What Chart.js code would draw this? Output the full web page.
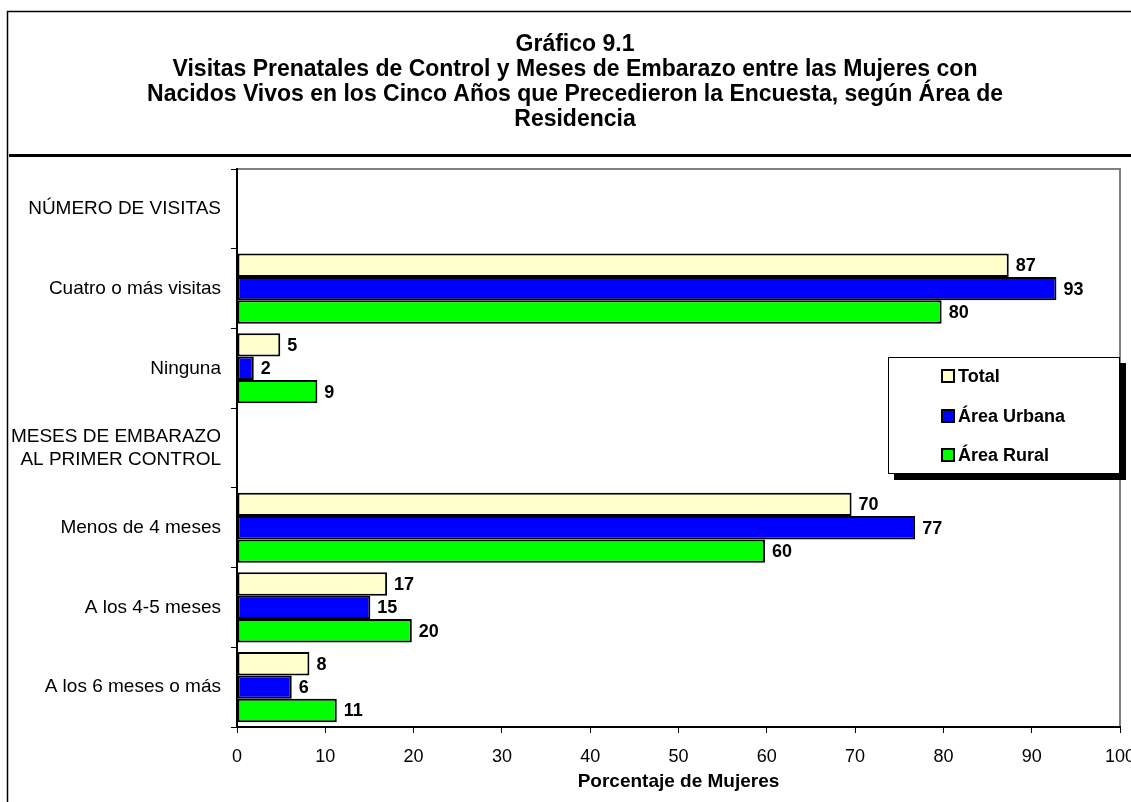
<!DOCTYPE html>
<html>
<head>
<meta charset="utf-8">
<script src="https://cdn.jsdelivr.net/npm/chart.js@4"></script>
<style>
  html, body { margin: 0; padding: 0; background: #fff; overflow: hidden; }
  #wrap { width: 1150px; height: 802px; }
</style>
</head>
<body>
<div id="wrap"><canvas id="chart" width="1150" height="802"></canvas></div>
<script>
const FONT = 'Arial, "Liberation Sans", sans-serif';

const categories = [
  'NÚMERO DE VISITAS',
  'Cuatro o más visitas',
  'Ninguna',
  ['MESES DE EMBARAZO', 'AL PRIMER CONTROL'],
  'Menos de 4 meses',
  'A los 4-5 meses',
  'A los 6 meses o más'
];

const seriesNames = ['Total', 'Área Urbana', 'Área Rural'];
const seriesColors = ['#FFFFCC', '#0000FF', '#00FF00'];

const totalValues = [null, 87.4, 4.9, null, 69.6, 17.0, 8.2];
const urbanValues = [null, 92.8, 1.9, null, 76.8, 15.1, 6.2];
const ruralValues = [null, 79.8, 9.1, null, 59.8, 19.8, 11.3];

const xTicks = [0, 10, 20, 30, 40, 50, 60, 70, 80, 90, 100];

const titleLines = [
  'Gráfico 9.1',
  'Visitas Prenatales de Control y Meses de Embarazo entre las Mujeres con',
  'Nacidos Vivos en los Cinco Años que Precedieron la Encuesta, según Área de',
  'Residencia'
];

// marco exterior y linea bajo el titulo
const framePlugin = {
  id: 'frame',
  beforeDraw(chart) {
    const ctx = chart.ctx;
    ctx.save();
    ctx.strokeStyle = '#000';
    ctx.lineWidth = 1.5;
    ctx.beginPath();
    ctx.moveTo(7.5, 802);
    ctx.lineTo(7.5, 11.5);
    ctx.lineTo(1150, 11.5);
    ctx.stroke();
    ctx.lineWidth = 3;
    ctx.beginPath();
    ctx.moveTo(9, 155.5);
    ctx.lineTo(1150, 155.5);
    ctx.stroke();
    // borde gris del area de trazado
    const a = chart.chartArea;
    ctx.strokeStyle = '#808080';
    ctx.lineWidth = 2;
    ctx.beginPath();
    ctx.moveTo(a.left, a.top);
    ctx.lineTo(a.right, a.top);
    ctx.lineTo(a.right, a.bottom);
    ctx.stroke();
    ctx.restore();
  }
};

// etiquetas de valores a la derecha de cada barra
const valueLabels = {
  id: 'valueLabels',
  afterDatasetsDraw(chart) {
    const ctx = chart.ctx;
    ctx.save();
    ctx.font = 'bold 18px ' + FONT;
    ctx.fillStyle = '#000';
    ctx.textAlign = 'left';
    ctx.textBaseline = 'middle';
    chart.data.datasets.forEach((ds, i) => {
      const meta = chart.getDatasetMeta(i);
      meta.data.forEach((bar, j) => {
        const v = ds.data[j];
        if (v == null) return;
        ctx.fillText(String(Math.round(v)), bar.x + 7, bar.y + 1);
      });
    });
    ctx.restore();
  }
};

// leyenda con sombra dentro del grafico
const boxLegend = {
  id: 'boxLegend',
  afterDraw(chart) {
    const ctx = chart.ctx;
    const a = chart.chartArea;
    const w = 232, h = 117;
    const x = a.right - w, y = a.top + 188;
    ctx.save();
    ctx.fillStyle = '#000';
    ctx.fillRect(x + 6, y + 6, w, h);
    ctx.fillStyle = '#fff';
    ctx.fillRect(x, y, w, h);
    ctx.strokeStyle = '#000';
    ctx.lineWidth = 1;
    ctx.strokeRect(x + 0.5, y + 0.5, w - 1, h - 1);
    ctx.font = 'bold 18px ' + FONT;
    ctx.textBaseline = 'middle';
    ctx.textAlign = 'left';
    const rows = [19, 59, 98];
    chart.data.datasets.forEach((ds, i) => {
      const cy = y + rows[i];
      ctx.fillStyle = ds.backgroundColor;
      ctx.fillRect(x + 54, cy - 6, 12, 12);
      ctx.lineWidth = 2;
      ctx.strokeRect(x + 54, cy - 6, 12, 12);
      ctx.fillStyle = '#000';
      ctx.fillText(ds.label, x + 70, cy + 1);
    });
    ctx.restore();
  }
};

const datasets = [totalValues, urbanValues, ruralValues].map((vals, i) => ({
  label: seriesNames[i],
  data: vals,
  backgroundColor: seriesColors[i],
  borderColor: '#000',
  borderWidth: 2,
  borderSkipped: false,
  categoryPercentage: 0.88,
  barPercentage: 1.0
}));

new Chart(document.getElementById('chart'), {
  type: 'bar',
  data: { labels: categories, datasets: datasets },
  plugins: [framePlugin, valueLabels, boxLegend],
  options: {
    indexAxis: 'y',
    responsive: false,
    animation: false,
    devicePixelRatio: 1,
    layout: { padding: 0 },
    plugins: {
      legend: { display: false },
      tooltip: { enabled: false },
      title: {
        display: true,
        text: titleLines,
        color: '#000',
        font: { family: FONT, size: 23, weight: 'bold', lineHeight: '25px' },
        padding: { top: 32, bottom: 37 }
      }
    },
    scales: {
      x: {
        type: 'linear',
        min: 0,
        max: 100,
        afterBuildTicks(scale) {
          scale.ticks = xTicks.map(v => ({ value: v }));
        },
        afterFit(scale) {
          scale.height = 75;
          scale.paddingLeft = 0;
          scale.paddingRight = 30;
        },
        grid: { drawOnChartArea: false, drawTicks: true, tickLength: 6, color: '#000', lineWidth: 1 },
        border: { display: true, color: '#000', width: 2 },
        ticks: { color: '#000', font: { family: FONT, size: 18 }, padding: 13, maxRotation: 0 },
        title: {
          display: true,
          text: 'Porcentaje de Mujeres',
          color: '#000',
          font: { family: FONT, size: 19, weight: 'bold' },
          padding: { top: 0, bottom: 9 }
        }
      },
      y: {
        afterFit(scale) {
          scale.width = 237;
          scale.paddingTop = 0;
          scale.paddingBottom = 0;
        },
        grid: { drawOnChartArea: false, drawTicks: true, tickLength: 6, color: '#000', lineWidth: 1 },
        border: { display: true, color: '#000', width: 2 },
        ticks: { color: '#000', font: { family: FONT, size: 19 }, padding: 10, autoSkip: false }
      }
    }
  }
});
</script>
</body>
</html>
